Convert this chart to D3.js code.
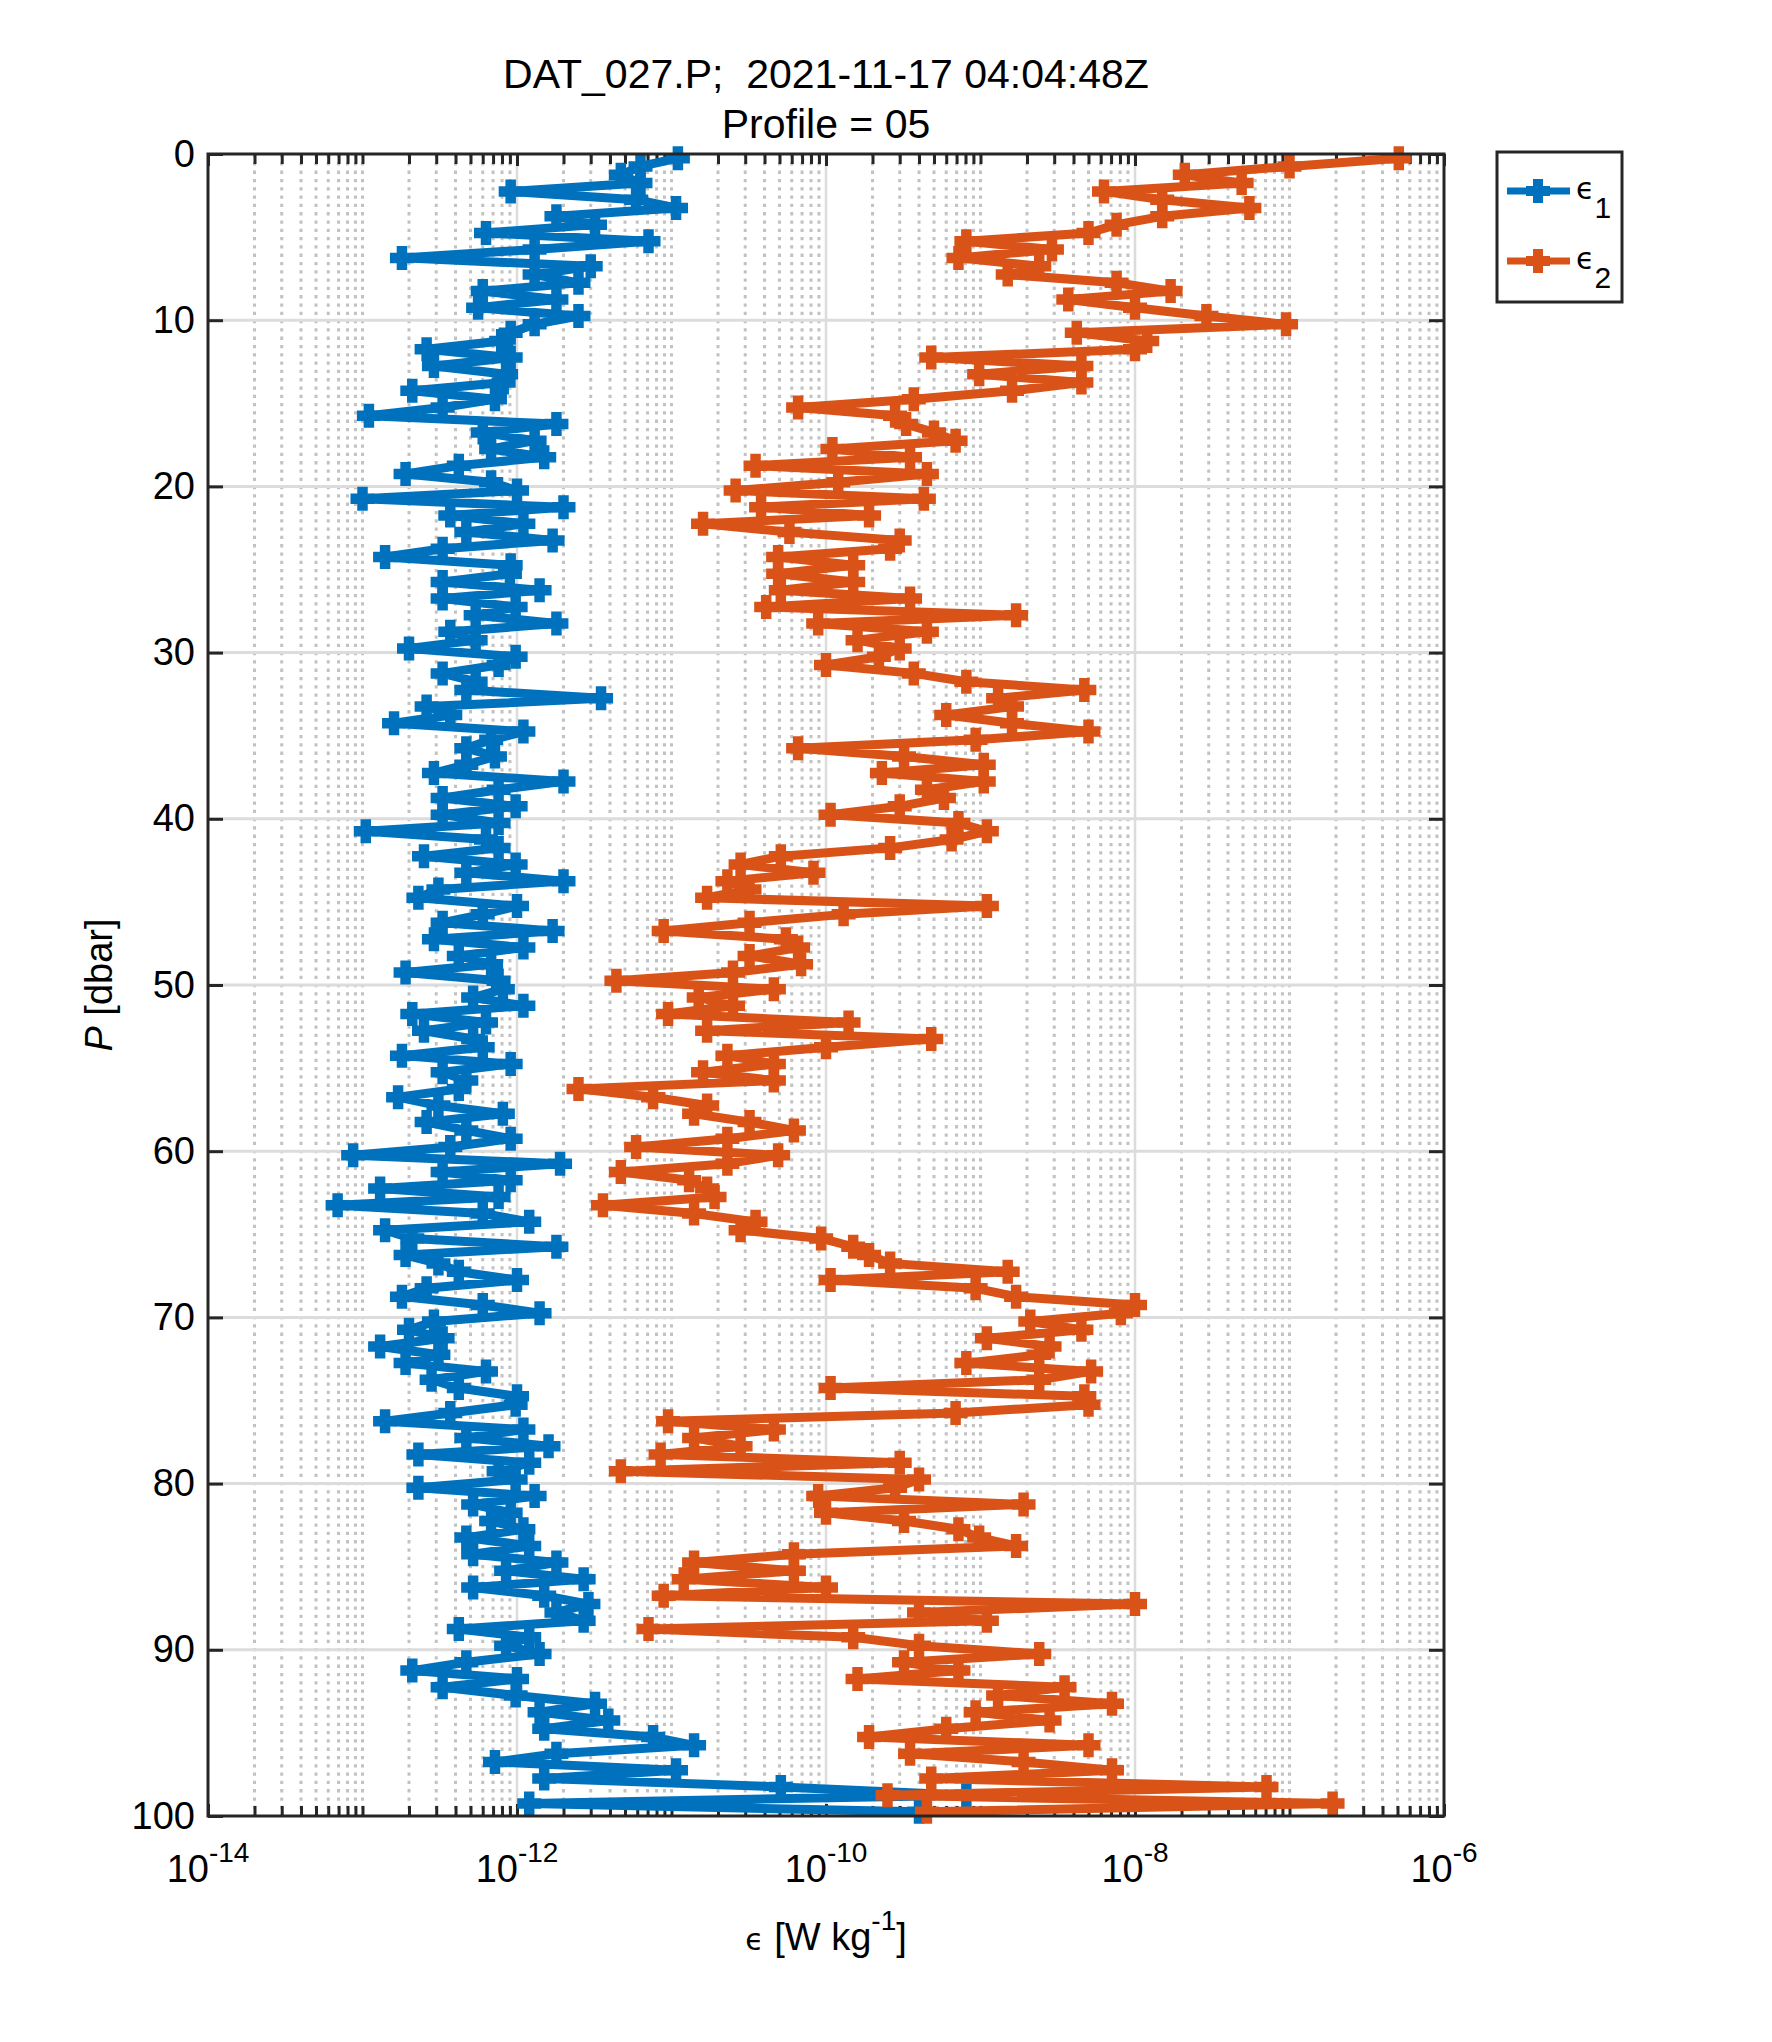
<!DOCTYPE html>
<html>
<head>
<meta charset="utf-8">
<script src="https://cdn.jsdelivr.net/npm/d3@7"></script>
<style>
  body { margin: 0; background: #fff; }
  text { font-family: "Liberation Sans", Arial, Helvetica, sans-serif; fill: #000; }
</style>
</head>
<body>
<div id="chart"></div>
<script>
// Pressure bins [dbar]
const pressure = [
   0.25,  0.75,  1.25,  1.75,  2.25,  2.75,  3.25,  3.75,  4.25,  4.75,
   5.25,  5.75,  6.25,  6.75,  7.25,  7.75,  8.25,  8.75,  9.25,  9.75,
  10.25, 10.75, 11.25, 11.75, 12.25, 12.75, 13.25, 13.75, 14.25, 14.75,
  15.25, 15.75, 16.25, 16.75, 17.25, 17.75, 18.25, 18.75, 19.25, 19.75,
  20.25, 20.75, 21.25, 21.75, 22.25, 22.75, 23.25, 23.75, 24.25, 24.75,
  25.25, 25.75, 26.25, 26.75, 27.25, 27.75, 28.25, 28.75, 29.25, 29.75,
  30.25, 30.75, 31.25, 31.75, 32.25, 32.75, 33.25, 33.75, 34.25, 34.75,
  35.25, 35.75, 36.25, 36.75, 37.25, 37.75, 38.25, 38.75, 39.25, 39.75,
  40.25, 40.75, 41.25, 41.75, 42.25, 42.75, 43.25, 43.75, 44.25, 44.75,
  45.25, 45.75, 46.25, 46.75, 47.25, 47.75, 48.25, 48.75, 49.25, 49.75,
  50.25, 50.75, 51.25, 51.75, 52.25, 52.75, 53.25, 53.75, 54.25, 54.75,
  55.25, 55.75, 56.25, 56.75, 57.25, 57.75, 58.25, 58.75, 59.25, 59.75,
  60.25, 60.75, 61.25, 61.75, 62.25, 62.75, 63.25, 63.75, 64.25, 64.75,
  65.25, 65.75, 66.25, 66.75, 67.25, 67.75, 68.25, 68.75, 69.25, 69.75,
  70.25, 70.75, 71.25, 71.75, 72.25, 72.75, 73.25, 73.75, 74.25, 74.75,
  75.25, 75.75, 76.25, 76.75, 77.25, 77.75, 78.25, 78.75, 79.25, 79.75,
  80.25, 80.75, 81.25, 81.75, 82.25, 82.75, 83.25, 83.75, 84.25, 84.75,
  85.25, 85.75, 86.25, 86.75, 87.25, 87.75, 88.25, 88.75, 89.25, 89.75,
  90.25, 90.75, 91.25, 91.75, 92.25, 92.75, 93.25, 93.75, 94.25, 94.75,
  95.25, 95.75, 96.25, 96.75, 97.25, 97.75, 98.25, 98.75, 99.25, 99.75
];

// epsilon_1 [W/kg]
const eps1 = [
  1.1e-11, 6.3e-12, 4.7e-12, 6.3e-12, 9.1e-13, 5.9e-12, 1.07e-11, 1.8e-12, 3.2e-12, 6.3e-13,
  7.1e-12, 1.3e-12, 1.8e-13, 3.0e-12, 1.3e-12, 2.5e-12, 6.0e-13, 1.8e-12, 5.6e-13, 2.5e-12,
  1.3e-12, 9.1e-13, 7.9e-13, 2.6e-13, 9.1e-13, 2.9e-13, 8.5e-13, 8.2e-13, 2.1e-13, 7.2e-13,
  3.3e-13, 1.1e-13, 1.8e-12, 6.0e-13, 1.3e-12, 6.8e-13, 1.5e-12, 4.2e-13, 1.9e-13, 6.8e-13,
  1.0e-12, 1.0e-13, 2.0e-12, 3.7e-13, 1.1e-12, 4.7e-13, 1.7e-12, 3.3e-13, 1.4e-13, 9.1e-13,
  9.0e-13, 3.3e-13, 1.4e-12, 3.3e-13, 9.8e-13, 5.4e-13, 1.8e-12, 3.7e-13, 5.4e-13, 2.0e-13,
  9.8e-13, 7.6e-13, 3.3e-13, 5.4e-13, 4.7e-13, 3.5e-12, 2.6e-13, 3.7e-13, 1.6e-13, 1.1e-12,
  6.8e-13, 4.7e-13, 7.2e-13, 4.7e-13, 2.9e-13, 2.0e-12, 7.6e-13, 3.3e-13, 9.8e-13, 3.3e-13,
  7.6e-13, 1.05e-13, 6.3e-13, 7.6e-13, 2.5e-13, 9.8e-13, 4.7e-13, 2.0e-12, 3.1e-13, 2.3e-13,
  1.0e-12, 6.0e-13, 3.3e-13, 1.7e-12, 2.9e-13, 1.1e-12, 4.2e-13, 6.8e-13, 1.9e-13, 7.6e-13,
  8.1e-13, 5.2e-13, 1.1e-12, 2.1e-13, 6.3e-13, 2.5e-13, 5.2e-13, 6.0e-13, 1.8e-13, 9.1e-13,
  3.3e-13, 4.7e-13, 4.2e-13, 1.7e-13, 3.1e-13, 8.1e-13, 2.6e-13, 4.7e-13, 9.1e-13, 3.7e-13,
  8.7e-14, 1.9e-12, 3.3e-13, 9.1e-13, 1.3e-13, 7.6e-13, 6.9e-14, 6.0e-13, 1.2e-12, 1.4e-13,
  2.1e-13, 1.8e-12, 1.9e-13, 3.1e-13, 4.2e-13, 1.0e-12, 2.6e-13, 1.8e-13, 6.0e-13, 1.4e-12,
  2.9e-13, 2.0e-13, 3.3e-13, 1.3e-13, 3.1e-13, 1.9e-13, 6.3e-13, 2.8e-13, 4.2e-13, 1.0e-12,
  9.8e-13, 3.7e-13, 1.4e-13, 1.1e-12, 4.7e-13, 1.6e-12, 2.3e-13, 1.2e-12, 7.6e-13, 9.8e-13,
  2.3e-13, 1.3e-12, 5.2e-13, 9.1e-13, 6.8e-13, 1.1e-12, 4.7e-13, 1.2e-12, 5.2e-13, 1.8e-12,
  8.5e-13, 2.7e-12, 5.2e-13, 1.5e-12, 2.9e-12, 1.8e-12, 2.7e-12, 4.2e-13, 1.2e-12, 8.5e-13,
  1.4e-12, 4.7e-13, 2.1e-13, 1.0e-12, 3.3e-13, 9.8e-13, 3.2e-12, 1.4e-12, 3.9e-12, 1.5e-12,
  7.6e-12, 1.4e-11, 1.8e-12, 7.2e-13, 1.07e-11, 1.5e-12, 5.1e-11, 8.1e-10, 1.2e-12, 4.0e-10
];

// epsilon_2 [W/kg]
const eps2 = [
  5.1e-7, 1.0e-7, 2.1e-8, 4.9e-8, 6.3e-9, 1.5e-8, 5.5e-8, 1.5e-8, 7.6e-9, 5.0e-9,
  8.1e-10, 2.9e-9, 7.2e-10, 2.4e-9, 1.5e-9, 7.6e-9, 1.7e-8, 3.7e-9, 1.0e-8, 2.9e-8,
  9.5e-8, 4.2e-9, 1.2e-8, 1.0e-8, 4.8e-10, 4.5e-9, 9.8e-10, 4.5e-9, 1.6e-9, 3.7e-10,
  6.6e-11, 2.8e-10, 3.3e-10, 5.0e-10, 6.9e-10, 1.1e-10, 3.5e-10, 3.5e-11, 4.5e-10, 1.2e-10,
  2.6e-11, 4.3e-10, 3.8e-11, 1.9e-10, 1.6e-11, 5.8e-11, 3.0e-10, 2.6e-10, 4.9e-11, 1.5e-10,
  4.9e-11, 1.5e-10, 5.1e-11, 3.5e-10, 4.1e-11, 1.7e-9, 8.9e-11, 4.5e-10, 1.6e-10, 3.0e-10,
  2.2e-10, 1.0e-10, 3.7e-10, 8.1e-10, 4.7e-9, 1.3e-9, 1.6e-9, 6.0e-10, 1.6e-9, 5.0e-9,
  9.3e-10, 6.6e-11, 3.2e-10, 1.05e-9, 2.3e-10, 1.05e-9, 4.5e-10, 5.8e-10, 3.0e-10, 1.07e-10,
  7.2e-10, 1.1e-9, 6.5e-10, 2.6e-10, 5.1e-11, 2.8e-11, 8.3e-11, 2.3e-11, 3.2e-11, 1.7e-11,
  1.1e-9, 1.3e-10, 3.2e-11, 8.9e-12, 5.5e-11, 6.6e-11, 3.2e-11, 6.9e-11, 2.5e-11, 4.4e-12,
  4.6e-11, 1.5e-11, 2.5e-11, 9.5e-12, 1.4e-10, 1.7e-11, 4.8e-10, 1.0e-10, 2.3e-11, 4.6e-11,
  1.6e-11, 4.6e-11, 2.5e-12, 7.6e-12, 1.7e-11, 1.4e-11, 3.2e-11, 6.2e-11, 2.3e-11, 5.9e-12,
  4.9e-11, 2.3e-11, 4.7e-12, 1.3e-11, 1.7e-11, 1.9e-11, 3.6e-12, 1.4e-11, 3.5e-11, 2.8e-11,
  9.3e-11, 1.5e-10, 1.9e-10, 2.6e-10, 1.5e-9, 1.07e-10, 9.3e-10, 1.7e-9, 1.0e-8, 8.1e-9,
  2.1e-9, 4.5e-9, 1.1e-9, 2.8e-9, 2.4e-9, 8.1e-10, 5.2e-9, 2.4e-9, 1.07e-10, 4.7e-9,
  5.0e-9, 6.9e-10, 9.5e-12, 4.6e-11, 1.4e-11, 2.8e-11, 8.5e-12, 3.0e-10, 4.7e-12, 4.0e-10,
  2.8e-10, 8.9e-11, 1.9e-9, 1.0e-10, 3.2e-10, 7.2e-10, 9.8e-10, 1.7e-9, 6.2e-11, 1.4e-11,
  6.2e-11, 1.2e-11, 1.0e-10, 8.9e-12, 1.0e-8, 4.0e-10, 1.1e-9, 7.1e-12, 1.5e-10, 4.0e-10,
  2.4e-9, 3.2e-10, 7.2e-10, 1.6e-10, 3.5e-9, 1.3e-9, 7.1e-9, 9.3e-10, 2.8e-9, 6.0e-10,
  1.9e-10, 5.0e-9, 3.5e-10, 1.9e-9, 7.1e-9, 4.8e-10, 7.1e-8, 2.5e-10, 1.9e-7, 4.5e-10
];

const yTicks = [0, 10, 20, 30, 40, 50, 60, 70, 80, 90, 100];
const xTickExps = [-14, -12, -10, -8, -6];
const seriesNames = ["1", "2"];
const seriesColors = ["#0072BD", "#D95319"];
const titleLines = ["DAT_027.P;\u00A0 2021-11-17 04:04:48Z", "Profile = 05"];

// Layout
const width = 1772, height = 2042;
const margin = { top: 154, bottom: 226, left: 208, right: 328 };
const chartW = width - margin.left - margin.right,
      chartH = height - margin.top - margin.bottom;
const axisColor = "#262626";
const tickFont = 38;

const svg = d3.select("#chart").append("svg")
  .attr("width", width).attr("height", height)
  .style("background", "#fff");

const x = d3.scaleLog([1e-14, 1e-6], [0, chartW]);
const y = d3.scaleLinear([0, 100], [0, chartH]);

const majorX = xTickExps.map(e => Math.pow(10, e));
// minor positions: k*10^n except labelled decades
const minorX = [];
for (let n = -14; n < -6; n++) {
  for (let k = 1; k <= 9; k++) {
    if (k === 1 && xTickExps.includes(n)) continue;
    minorX.push(k * Math.pow(10, n));
  }
}

const chart = svg.append("g")
  .attr("transform", `translate(${margin.left},${margin.top})`);

// Grid
const grid = chart.append("g");
grid.selectAll("line.minor").data(minorX).join("line")
  .attr("x1", d => x(d)).attr("x2", d => x(d))
  .attr("y1", 0).attr("y2", chartH)
  .attr("stroke", "#c2c2c2").attr("stroke-width", 3)
  .attr("stroke-dasharray", "3.3,5");
grid.selectAll("line.majx").data(majorX.slice(1, -1)).join("line")
  .attr("x1", d => x(d)).attr("x2", d => x(d))
  .attr("y1", 0).attr("y2", chartH)
  .attr("stroke", "#dcdcdc").attr("stroke-width", 2.5);
grid.selectAll("line.majy").data(yTicks.slice(1, -1)).join("line")
  .attr("y1", d => y(d)).attr("y2", d => y(d))
  .attr("x1", 0).attr("x2", chartW)
  .attr("stroke", "#dcdcdc").attr("stroke-width", 3);

// Axes (ticks point inward)
function styleAxis(g) {
  g.select(".domain").remove();
  g.selectAll(".tick line").attr("stroke", axisColor).attr("stroke-width", 3);
  g.selectAll(".tick text").attr("fill", axisColor)
    .style("font-size", tickFont + "px").style("font-family", '"Liberation Sans", Arial, sans-serif');
}

chart.append("g")
  .call(d3.axisLeft(y).tickValues(yTicks).tickSizeInner(-15).tickSizeOuter(0).tickPadding(13))
  .call(styleAxis);
chart.append("g").attr("transform", `translate(${chartW},0)`)
  .call(d3.axisRight(y).tickValues(yTicks).tickSizeInner(-15).tickSizeOuter(0).tickFormat(""))
  .call(styleAxis);

[["bottom", chartH], ["top", 0]].forEach(([side, ty]) => {
  const gen = side === "bottom" ? d3.axisBottom : d3.axisTop;
  chart.append("g").attr("transform", `translate(0,${ty})`)
    .call(gen(x).tickValues(minorX).tickSizeInner(-10).tickSizeOuter(0).tickFormat(""))
    .call(styleAxis);
  chart.append("g").attr("transform", `translate(0,${ty})`)
    .call(gen(x).tickValues(majorX).tickSizeInner(-12).tickSizeOuter(0).tickFormat(""))
    .call(styleAxis);
});

// x tick labels as 10^n
const xLabels = chart.append("g").attr("transform", `translate(0,${chartH})`);
xLabels.selectAll("text").data(xTickExps).join("text")
  .attr("x", d => x(Math.pow(10, d)))
  .attr("y", 66)
  .attr("text-anchor", "middle")
  .attr("fill", axisColor)
  .style("font-size", tickFont + "px")
  .each(function (d) {
    const t = d3.select(this);
    t.append("tspan").text("10");
    t.append("tspan").attr("dy", -20).style("font-size", "28px").text(String(d));
  });

// Data
const line = d3.line().x(d => x(d[1])).y(d => y(d[0]));
const plus = "M-12,0H12M0,-12V12";

[eps1, eps2].forEach((vals, i) => {
  const pts = pressure.map((p, j) => [p, vals[j]]);
  const g = chart.append("g");
  g.append("path").datum(pts)
    .attr("d", line)
    .attr("fill", "none")
    .attr("stroke", seriesColors[i])
    .attr("stroke-width", 9)
    .attr("stroke-linejoin", "round");
  g.selectAll("path.mk").data(pts).join("path")
    .attr("class", "mk")
    .attr("d", plus)
    .attr("transform", d => `translate(${x(d[1])},${y(d[0])})`)
    .attr("stroke", seriesColors[i])
    .attr("stroke-width", 10.5)
    .attr("fill", "none");
});

// Box
chart.append("rect")
  .attr("width", chartW).attr("height", chartH)
  .attr("fill", "none").attr("stroke", axisColor).attr("stroke-width", 3);

// Title
svg.append("g").selectAll("text").data(titleLines).join("text")
  .attr("x", margin.left + chartW / 2)
  .attr("y", (d, i) => 88 + i * 50)
  .attr("text-anchor", "middle")
  .style("font-size", "41px")
  .text(d => d);

// Axis labels
const xLab = svg.append("text")
  .attr("x", margin.left + chartW / 2).attr("y", 1950)
  .attr("text-anchor", "middle")
  .attr("fill", axisColor)
  .style("font-size", tickFont + "px");
xLab.append("tspan").style("font-family", '"DejaVu Sans", sans-serif').style("font-size", "30px").text("\u03F5");
xLab.append("tspan").text(" [W kg");
xLab.append("tspan").attr("dy", -20).style("font-size", "28px").text("-1");
xLab.append("tspan").attr("dy", 20).text("]");

const yLab = svg.append("text")
  .attr("transform", `translate(112,${margin.top + chartH / 2})rotate(-90)`)
  .attr("text-anchor", "middle")
  .attr("fill", axisColor)
  .style("font-size", tickFont + "px");
yLab.append("tspan").style("font-style", "italic").text("P");
yLab.append("tspan").text(" [dbar]");

// Legend
const legend = svg.append("g").attr("transform", "translate(1497,152)");
legend.append("rect")
  .attr("width", 125).attr("height", 150)
  .attr("fill", "#fff").attr("stroke", axisColor).attr("stroke-width", 3);
const items = legend.selectAll("g.item").data(seriesNames).join("g")
  .attr("class", "item")
  .attr("transform", (d, i) => `translate(0,${39 + i * 70})`);
items.append("line")
  .attr("x1", 10).attr("x2", 73).attr("y1", 0).attr("y2", 0)
  .attr("stroke", (d, i) => seriesColors[i]).attr("stroke-width", 7);
items.append("path")
  .attr("d", plus)
  .attr("transform", "translate(41,0)")
  .attr("stroke", (d, i) => seriesColors[i]).attr("stroke-width", 10);
const lt = items.append("text").attr("x", 79).attr("y", 8);
lt.append("tspan").style("font-family", '"DejaVu Sans", sans-serif').style("font-size", "30px").text("\u03F5");
lt.append("tspan").attr("dy", 19).style("font-size", "30px").text(d => d);
</script>
</body>
</html>
